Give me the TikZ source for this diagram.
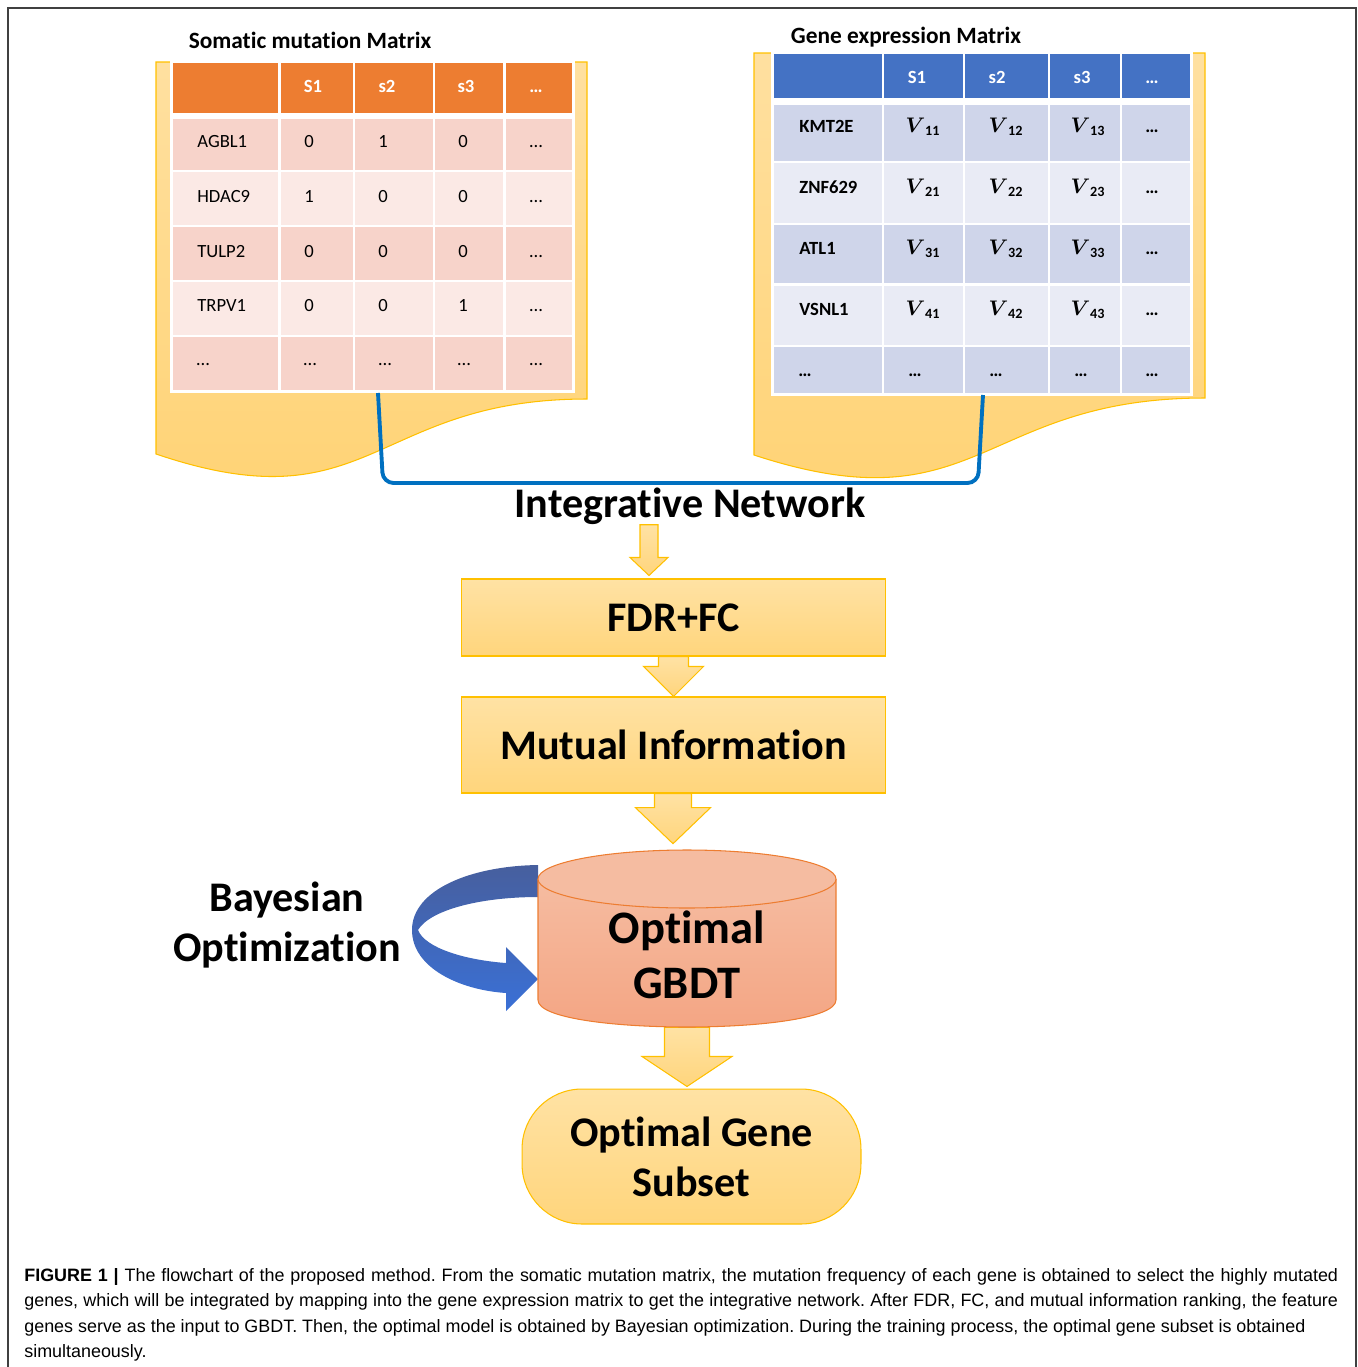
\documentclass[tikz,border=0pt]{standalone}
\usepackage{fontspec}
\setmainfont{Carlito}[Ligatures=NoCommon]
\newfontfamily\capfont{Liberation Sans}
\usepackage{amsmath,amssymb}
\usepackage{tikz}
\usetikzlibrary{calc}
\definecolor{somhead}{HTML}{ED7D31}
\definecolor{somrowa}{HTML}{F7D3CA}
\definecolor{somrowb}{HTML}{FBE9E5}
\definecolor{genhead}{HTML}{4472C4}
\definecolor{genrowa}{HTML}{CFD5EA}
\definecolor{genrowb}{HTML}{E9EBF5}
\definecolor{goldline}{HTML}{FFC000}
\definecolor{doctop}{HTML}{FFE0A0}
\definecolor{docbot}{HTML}{FFD272}
\definecolor{boxtop}{HTML}{FFE2A4}
\definecolor{boxbot}{HTML}{FFD57C}
\definecolor{linkblue}{HTML}{0070C0}
\definecolor{cyltop}{HTML}{F5BCA1}
\definecolor{cylbot}{HTML}{F4A482}
\definecolor{cylline}{HTML}{ED7D31}
\definecolor{loopdark}{HTML}{475F9E}
\definecolor{looplight}{HTML}{3A70D6}

% block arrow pointing down: start, tip, half shaft, half head, head length
\newcommand{\blkdown}[5]{%
  \path[blk] ($(#2|-#1)+(-#3,0)$) -- ($(#2|-#1)+(#3,0)$) -- ($(#2)+(#3,-#5)$)
    -- ($(#2)+(#4,-#5)$) -- (#2) -- ($(#2)+(-#4,-#5)$) -- ($(#2)+(-#3,-#5)$) -- cycle;}

\begin{document}
\begin{tikzpicture}[
    x=0.02cm, y=-0.02cm,
    doc/.style={draw=goldline, line width=0.6pt, top color=doctop, bottom color=docbot},
    blk/.style={draw=goldline, line width=0.6pt, top color=boxtop, bottom color=boxbot},
    stepbox/.style={draw=goldline, line width=0.6pt, top color=boxtop, bottom color=boxbot,
      minimum width=8.5cm, inner sep=0pt, font=\fontsize{24}{28.3}\selectfont\bfseries},
    bigtxt/.style={font=\fontsize{24}{28.3}\selectfont\bfseries, inner sep=0pt, align=center},
    ttl/.style={font=\fontsize{13.3}{15}\selectfont\bfseries, inner sep=0pt},
    cellt/.style={font=\fontsize{10.6}{12}\selectfont, inner sep=0pt, anchor=base},
    hdt/.style={font=\fontsize{10.6}{12}\selectfont\bfseries, text=white, inner sep=0pt, anchor=base},
    capt/.style={font=\capfont\fontsize{10.2}{14.5}\selectfont, inner sep=0pt,
      text width=26.28cm, align=justify},
]
\useasboundingbox (0,0) rectangle (1358,1367);

% Frame
\draw[line width=0.7pt, black!75] (8,1367) -- (8,8) -- (1356,8) -- (1356,1367);

% Document shapes behind the tables
\path[doc] (156,62) -- (587,62) -- (587,399) .. controls (371.5,399) and (371.5,527) .. (156,454) -- cycle;
\path[doc] (754,53) -- (1205,53) -- (1205,398) .. controls (979.5,398) and (979.5,529) .. (754,455) -- cycle;

% Somatic mutation matrix
\node[ttl] (smtitle) at (310,40) {Somatic mutation Matrix};
\fill[white] (170,60) rectangle (575,393);
\foreach \xa/\xb in {173/278,281/353,355/433,435/503,506/572}{
  \fill[somhead] (\xa,63) rectangle (\xb,113);
  \foreach \ya/\yb [count=\r] in {119/170,172/225,227/280,282/335,337/390}{
    \ifodd\r \fill[somrowa] (\xa,\ya) rectangle (\xb,\yb);
    \else \fill[somrowb] (\xa,\ya) rectangle (\xb,\yb); \fi
  }
}
\foreach \lbl/\xc [count=\c] in {S1/313,s2/387,s3/466,\dots/536}
  \node[hdt] (sm-h\c) at (\xc,92) {\lbl};
\foreach \gene/\va/\vb/\vc/\yb [count=\r] in {
  AGBL1/0/1/0/147,
  HDAC9/1/0/0/202,
  TULP2/0/0/0/257,
  TRPV1/0/0/1/311
}{
  \node[cellt, anchor=base west] (sm-\r-0) at (197,\yb) {\gene};
  \node[cellt] (sm-\r-1) at (309,\yb) {\va};
  \node[cellt] (sm-\r-2) at (383,\yb) {\vb};
  \node[cellt] (sm-\r-3) at (463,\yb) {\vc};
  \node[cellt] (sm-\r-4) at (536,\yb) {\dots};
}
\foreach \xc [count=\c] in {203,310,385,464,536}
  \node[cellt] (sm-5-\c) at (\xc,365) {\dots};

% Gene expression matrix
\node[ttl] (getitle) at (906,37) {Gene expression Matrix};
\fill[white] (771,52) rectangle (1193,396);
\foreach \xa/\xb in {774/882,884/963,965/1048,1050/1120,1122/1190}{
  \fill[genhead] (\xa,54) rectangle (\xb,98);
  \foreach \ya/\yb [count=\r] in {105/161,163/223,225/283,286/345,347/393}{
    \ifodd\r \fill[genrowa] (\xa,\ya) rectangle (\xb,\yb);
    \else \fill[genrowb] (\xa,\ya) rectangle (\xb,\yb); \fi
  }
}
\foreach \lbl/\xc [count=\c] in {S1/917,s2/997,s3/1082,\dots/1152}
  \node[hdt] (ge-h\c) at (\xc,83) {\lbl};
\foreach \gene/\yb [count=\r] in {KMT2E/132, ZNF629/193, ATL1/254, VSNL1/315}{
  \node[cellt, anchor=base west, font=\fontsize{10.6}{12}\selectfont\bfseries] (ge-\r-0) at (799,\yb) {\gene};
  \node[cellt, font=\fontsize{11.5}{12}\selectfont] (ge-\r-1) at (923,\yb) {$\boldsymbol{V}_{\textbf{\r1}}$};
  \node[cellt, font=\fontsize{11.5}{12}\selectfont] (ge-\r-2) at (1006,\yb) {$\boldsymbol{V}_{\textbf{\r2}}$};
  \node[cellt, font=\fontsize{11.5}{12}\selectfont] (ge-\r-3) at (1088,\yb) {$\boldsymbol{V}_{\textbf{\r3}}$};
  \node[cellt, font=\fontsize{10.6}{12}\selectfont\bfseries] (ge-\r-4) at (1152,\yb) {\dots};
}
\foreach \xc [count=\c] in {805,915,996,1081,1152}
  \node[cellt, font=\fontsize{10.6}{12}\selectfont\bfseries] (ge-5-\c) at (\xc,376) {\dots};

% Link between the two matrices
\coordinate (smlink) at (378,393);
\coordinate (gelink) at (983,395);
\coordinate (jl) at (383,483);
\coordinate (jr) at (978,483);
\draw[linkblue, line width=2.2pt, rounded corners=6pt] (smlink) -- (jl) -- (jr) -- (gelink);

% Flow
\node[bigtxt] (intnet) at (690,506) {Integrative Network};
\node[stepbox, minimum height=1.54cm] (fdr) at (673.5,617.5) {FDR+FC};
\node[stepbox, minimum height=1.92cm] (mutinf) at (673.5,745) {Mutual Information};
\node[minimum width=5.96cm, minimum height=3.54cm, inner sep=0pt] (gbdt) at (687,938.5) {};
\node[draw=goldline, line width=0.6pt, top color=boxtop, bottom color=boxbot,
  minimum width=6.78cm, minimum height=2.7cm, rounded corners=1.2cm, bigtxt] (subset) at (691.5,1156.5) {Optimal Gene\\Subset};

\coordinate (t1) at ($(fdr.north)+(-24.5,-3)$);
\coordinate (t3) at ($(gbdt.north)+(-14,-6)$);
\coordinate (t4) at ($(subset.north)+(-4.5,-2)$);
\blkdown{intnet.south}{t1}{9}{19}{18}
\blkdown{fdr.south}{mutinf.north}{15}{30}{30}
\blkdown{mutinf.south}{t3}{18.5}{37.5}{36}
\blkdown{gbdt.south}{t4}{22.5}{45}{30}

% Bayesian optimization loop
\node[bigtxt] (bayes) at (287,925) {Bayesian\\Optimization};
\path[top color=loopdark, bottom color=looplight]
  (538,865) .. controls (470,866) and (412,890) .. (412,930)
  .. controls (412,968) and (460,990) .. (506,993) -- (506,1011) -- (538,979)
  -- (506,947) -- (506,963) .. controls (465,960) and (425,948) .. (418,930)
  .. controls (430,910) and (480,897) .. (538,897) -- cycle;

% Cylinder
\path[top color=cyltop, bottom color=cylbot] (538,879) -- (538,1000)
  .. controls (538,1036) and (836,1036) .. (836,1000) -- (836,879) -- cycle;
\draw[cylline, line width=0.6pt] (538,879) -- (538,1000)
  .. controls (538,1036) and (836,1036) .. (836,1000) -- (836,879);
\filldraw[fill=cyltop, draw=cylline, line width=0.6pt] (687,879) ellipse [x radius=149, y radius=29];
\node[bigtxt, font=\fontsize{26.5}{31.5}\selectfont\bfseries] (gbdt-lbl) at (687,955) {Optimal\\GBDT};

% Caption
\node[capt, anchor=north west] (caption) at (24,1268) {\frenchspacing\textbf{FIGURE 1 |} The flowchart of the proposed method. From the somatic mutation matrix, the mutation frequency of each gene is obtained to select the highly mutated\linebreak
genes, which will be integrated by mapping into the gene expression matrix to get the integrative network. After FDR, FC, and mutual information ranking, the feature\linebreak
genes serve as the input to GBDT. Then, the optimal model is obtained by Bayesian optimization. During the training process, the optimal gene subset is obtained\\
simultaneously.};

\end{tikzpicture}
\end{document}
